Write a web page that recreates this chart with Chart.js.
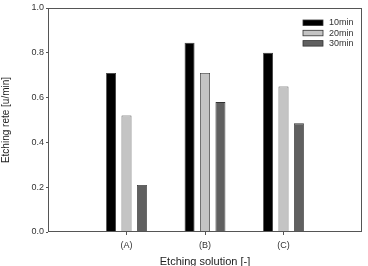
<!DOCTYPE html>
<html>
<head>
<meta charset="utf-8">
<script src="https://cdn.jsdelivr.net/npm/chart.js@4"></script>
<style>
  html, body { margin: 0; padding: 0; background: #fff; }
  #wrap { width: 368px; height: 266px; overflow: hidden; }
  #wrap canvas { display: block; }
</style>
</head>
<body>
<div id="wrap"><canvas id="chart" width="368" height="274"></canvas></div>
<script>
const categories = ['(A)', '(B)', '(C)'];
const seriesNames = ['10min', '20min', '30min'];
const rate10 = [0.71, 0.845, 0.80];
const rate20 = [0.52, 0.71, 0.65];
const rate30 = [0.21, 0.58, 0.485];
const yTicks = [0.0, 0.2, 0.4, 0.6, 0.8, 1.0];

// one empty slot each side so the groups sit at 1/4, 2/4, 3/4 of the width
const labels = [''].concat(categories, ['']);
const pad = arr => [null].concat(arr, [null]);

const fontFamily = '"Liberation Sans", Arial, sans-serif';
const axisColor = '#555';

// frame around the plot area
const framePlugin = {
  id: 'frame',
  afterDraw(chart) {
    const { ctx, chartArea: a } = chart;
    ctx.save();
    ctx.strokeStyle = axisColor;
    ctx.lineWidth = 1;
    ctx.strokeRect(a.left + 0.5, a.top + 0.5, a.right - a.left - 1, a.bottom - a.top - 1);
    ctx.restore();
  }
};

// legend drawn inside the plot, top right
const innerLegend = {
  id: 'innerLegend',
  afterDraw(chart) {
    const { ctx, chartArea: a } = chart;
    ctx.save();
    ctx.font = '9px ' + fontFamily;
    ctx.textBaseline = 'middle';
    chart.data.datasets.forEach((ds, i) => {
      const x = a.right - 59;
      const y = a.top + 12 + i * 10.3;
      ctx.fillStyle = ds.backgroundColor;
      ctx.fillRect(x, y, 20, 5.5);
      ctx.strokeStyle = '#333';
      ctx.lineWidth = 0.8;
      ctx.strokeRect(x, y, 20, 5.5);
      ctx.fillStyle = '#333';
      ctx.fillText(ds.label, x + 26, y + 3);
    });
    ctx.restore();
  }
};

new Chart(document.getElementById('chart'), {
  type: 'bar',
  data: {
    labels: labels,
    datasets: [
      { label: seriesNames[0], data: pad(rate10), backgroundColor: '#000000' },
      { label: seriesNames[1], data: pad(rate20), backgroundColor: '#c4c4c4' },
      { label: seriesNames[2], data: pad(rate30), backgroundColor: '#606060' }
    ].map(ds => Object.assign(ds, {
      borderColor: '#333',
      borderWidth: 0.8,
      categoryPercentage: 0.59,
      barPercentage: 0.645
    }))
  },
  options: {
    responsive: false,
    animation: false,
    layout: { padding: { left: 0, right: 6, top: 8, bottom: 0 } },
    plugins: {
      legend: { display: false },
      tooltip: { enabled: false }
    },
    scales: {
      x: {
        offset: false,
        border: { display: false },
        grid: {
          offset: false,
          drawOnChartArea: false,
          tickLength: 3,
          tickColor: c => (labels[c.index] ? axisColor : 'rgba(0,0,0,0)')
        },
        ticks: {
          padding: 5,
          color: '#333',
          font: { family: fontFamily, size: 9 },
          maxRotation: 0,
          autoSkip: false
        },
        title: {
          display: true,
          text: 'Etching solution [-]',
          color: '#222',
          font: { family: fontFamily, size: 11 },
          padding: { top: 0, bottom: 5 }
        },
        afterFit(scale) { scale.height = 42; }
      },
      y: {
        min: 0,
        max: 1,
        border: { display: false },
        grid: {
          drawOnChartArea: false,
          tickLength: 2,
          tickColor: axisColor
        },
        afterBuildTicks(scale) {
          scale.ticks = yTicks.map(v => ({ value: v }));
        },
        ticks: {
          padding: 2,
          color: '#333',
          font: { family: fontFamily, size: 9 },
          callback: v => v.toFixed(1)
        },
        title: {
          display: true,
          text: 'Etching rete [u/min]',
          color: '#222',
          font: { family: fontFamily, size: 10 },
          padding: 0
        },
        afterFit(scale) { scale.width = 48; }
      }
    }
  },
  plugins: [framePlugin, innerLegend]
});
</script>
</body>
</html>
